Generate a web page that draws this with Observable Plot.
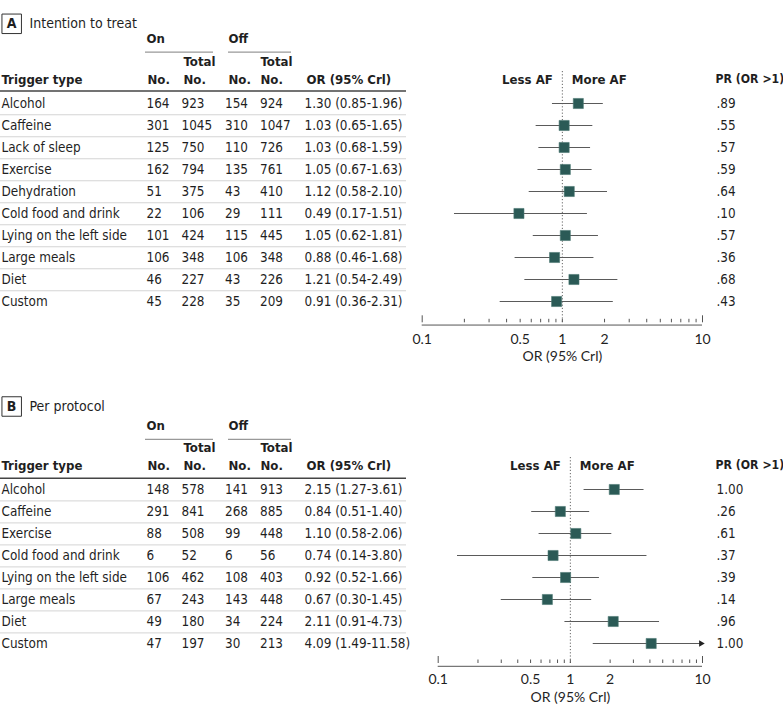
<!DOCTYPE html>
<html><head><meta charset="utf-8">
<script src="https://cdn.jsdelivr.net/npm/d3@7"></script>
<script src="https://cdn.jsdelivr.net/npm/@observablehq/plot@0.6"></script>
<style>
body{margin:0;background:#fff;}
#chart svg{display:block;}
</style></head><body><div id="chart"></div>
<script>
// ---- Panel A: Intention to treat ----
const triggersA = ["Alcohol","Caffeine","Lack of sleep","Exercise","Dehydration","Cold food and drink","Lying on the left side","Large meals","Diet","Custom"];
const onNoA = [164,301,125,162,51,22,101,106,46,45];
const onTotalA = [923,1045,750,794,375,106,424,348,227,228];
const offNoA = [154,310,110,135,43,29,115,106,43,35];
const offTotalA = [924,1047,726,761,410,111,445,348,226,209];
const orA = [1.30,1.03,1.03,1.05,1.12,0.49,1.05,0.88,1.21,0.91];
const lowA = [0.85,0.65,0.68,0.67,0.58,0.17,0.62,0.46,0.54,0.36];
const highA = [1.96,1.65,1.59,1.63,2.10,1.51,1.81,1.68,2.49,2.31];
const prA = [".89",".55",".57",".59",".64",".10",".57",".36",".68",".43"];

// ---- Panel B: Per protocol ----
const triggersB = ["Alcohol","Caffeine","Exercise","Cold food and drink","Lying on the left side","Large meals","Diet","Custom"];
const onNoB = [148,291,88,6,106,67,49,47];
const onTotalB = [578,841,508,52,462,243,180,197];
const offNoB = [141,268,99,6,108,143,34,30];
const offTotalB = [913,885,448,56,403,448,224,213];
const orB = [2.15,0.84,1.10,0.74,0.92,0.67,2.11,4.09];
const lowB = [1.27,0.51,0.58,0.14,0.52,0.30,0.91,1.49];
const highB = [3.61,1.40,2.06,3.80,1.66,1.45,4.73,11.58];
const prB = ["1.00",".26",".61",".37",".39",".14",".96","1.00"];

// ---- Axis ----
const axisTicks = [0.1,0.2,0.3,0.4,0.5,0.6,0.7,0.8,0.9,1,2,3,4,5,6,7,8,9,10];
const axisLabels = [0.1,0.5,1,2,10];
const xDomain = [0.1,10];

const W = 783;
const FONT = '"Liberation Sans Narrow","DejaVu Sans Condensed","Arial Narrow",sans-serif';
const AXFONT = 'Lato,"Open Sans",sans-serif';
const TXT = "#1f1f1f";
const FS = 13.4, FSB = 13.1;

function panel(c, d) {
  const rows = d.triggers.map((t,i)=>({
    t, onNo:d.onNo[i], onTotal:d.onTotal[i], offNo:d.offNo[i], offTotal:d.offTotal[i],
    or:d.or[i], low:d.low[i], high:d.high[i], pr:d.pr[i],
    label: `${d.or[i].toFixed(2)} (${d.low[i].toFixed(2)}-${d.high[i].toFixed(2)})`
  }));
  const n = rows.length;
  const ML = c.x0, MR = W - c.x1, MT = c.rowTop, MB = c.height - c.axisY;
  const firstC = c.rowTop + c.rowStep/2;
  const at = (x,y) => ({frameAnchor:"top-left", dx:x-ML, dy:y-MT});
  const hline = (y,xa,xb,o) => Plot.ruleY([d.triggers[0]], {y:v=>v, dy:y-firstC, insetLeft:xa-ML, insetRight:(W-MR)-xb, ...o});
  const label = (txt,x,y,o={}) => Plot.text([txt], {text:v=>v, ...at(x,y), lineAnchor:"middle", textAnchor:"start", fill:TXT, fontSize:FS, ...o});
  const bold = (txt,x,y,o={}) => label(txt,x,y,{fontWeight:"bold", fontSize:FSB, ...o});
  const col = (f,x,o={}) => Plot.text(rows, {y:"t", text:f, frameAnchor:"left", dx:x-ML, lineAnchor:"middle", textAnchor:"start", fill:TXT, fontSize:FS, ...o});
  const h = c.headY;
  return Plot.plot({
    width: W, height: c.height,
    marginTop: MT, marginLeft: ML, marginRight: MR, marginBottom: MB,
    style: {fontFamily: FONT, background: "#fff"},
    x: {type:"log", domain:xDomain, clamp:true, axis:null},
    y: {type:"band", domain:d.triggers, range:[c.rowTop, c.rowTop + n*c.rowStep], padding:0, axis:null},
    marks: [
      // panel title
      Plot.dot([0], {...at(11.2,c.titleY), symbol:"square", r:11, fill:"none", stroke:"#333", strokeWidth:1}),
      bold(d.letter, 11, c.titleY, {textAnchor:"middle", fontSize:14}),
      label(d.title, 29, c.titleY, {fontSize:14}),
      // group headers
      bold("On", 146, c.groupY), bold("Off", 228, c.groupY),
      hline(c.underY, 145, 213, {stroke:"#999", strokeWidth:1.3}),
      hline(c.underY, 228, 291, {stroke:"#999", strokeWidth:1.3}),
      bold("Total", 183, c.totalY), bold("Total", 260, c.totalY),
      bold("Trigger type", 1, h), bold("No.", 147, h), bold("No.", 183, h),
      bold("No.", 228, h), bold("No.", 260, h), bold("OR (95% Crl)", 306, h),
      bold("PR (OR >1)", 715, h, {fontSize:12.2}),
      Plot.text([1], {x:v=>v, text:()=>"Less AF", frameAnchor:"top", lineAnchor:"middle", dy:h-MT, dx:-9.5, textAnchor:"end", fontWeight:"bold", fill:TXT, fontSize:FSB}),
      Plot.text([1], {x:v=>v, text:()=>"More AF", frameAnchor:"top", lineAnchor:"middle", dy:h-MT, dx:9.5, textAnchor:"start", fontWeight:"bold", fill:TXT, fontSize:FSB}),
      hline(c.headLineY, 0, 406, {stroke:"#444", strokeWidth:1.6}),
      // row separators
      Plot.ruleY(d.triggers.slice(0,-1), {dy:c.rowStep/2, insetLeft:-ML, insetRight:(W-MR)-406, stroke:"#d4d4d4", strokeWidth:1}),
      // table columns
      col("t", 1),
      col(r=>String(r.onNo), 146), col(r=>String(r.onTotal), 181),
      col(r=>String(r.offNo), 224.5), col(r=>String(r.offTotal), 259.5),
      col("label", 304), col("pr", 716),
      // reference line
      Plot.ruleX([1], {insetTop:c.dotTop-MT, stroke:"#666", strokeWidth:1, strokeDasharray:"1.2,2"}),
      // axis
      hline(c.axisY, c.x0, c.x1, {stroke:"#555", strokeWidth:1}),
      Plot.ruleX(axisTicks.filter(v=>!xDomain.includes(v)), {insetTop:(c.axisY-MT)-3.5, stroke:"#555", strokeWidth:1}),
      Plot.ruleX(xDomain, {insetTop:(c.axisY-MT)-7, stroke:"#555", strokeWidth:1}),
      Plot.text(axisLabels, {x:v=>v, text:v=>String(v), frameAnchor:"bottom", lineAnchor:"middle", dy:c.tickLabelY-c.axisY, fontFamily:AXFONT, fontSize:14, fill:TXT}),
      Plot.text(["OR (95% Crl)"], {text:v=>v, frameAnchor:"bottom", lineAnchor:"middle", dy:c.axisTitleY-c.axisY, fontFamily:AXFONT, fontSize:14, fill:TXT}),
      // credible intervals and estimates
      Plot.ruleY(rows, {y:"t", x1:"low", x2:"high", stroke:"#5a5a5a", strokeWidth:1}),
      Plot.dot(rows.filter(r=>r.high>xDomain[1]), {x:"high", y:"t", symbol:"triangle", rotate:90, r:2.4, dx:-1.5, fill:"#222"}),
      Plot.dot(rows, {x:"or", y:"t", symbol:"square", r:5.7, fill:"#2b5a56", stroke:"#4f7a76", strokeWidth:0.6})
    ]
  });
}

const chart = document.getElementById("chart");
chart.append(panel(
  {height:375, titleY:23.3, groupY:38, underY:49.3, totalY:61, headY:79, headLineY:88.3,
   rowTop:89.5, rowStep:22.5, dotTop:71, axisY:322.3, tickLabelY:339, axisTitleY:356, x0:421.7, x1:702},
  {letter:"A", title:"Intention to treat", triggers:triggersA, onNo:onNoA, onTotal:onTotalA, offNo:offNoA, offTotal:offTotalA, or:orA, low:lowA, high:highA, pr:prA}
));
chart.append(panel(
  {height:342, titleY:31, groupY:50, underY:61, totalY:72, headY:90, headLineY:100,
   rowTop:99.8, rowStep:22.8, dotTop:82, axisY:288, tickLabelY:304, axisTitleY:322, x0:437.7, x1:702},
  {letter:"B", title:"Per protocol", triggers:triggersB, onNo:onNoB, onTotal:onTotalB, offNo:offNoB, offTotal:offTotalB, or:orB, low:lowB, high:highB, pr:prB}
));
</script></body></html>
